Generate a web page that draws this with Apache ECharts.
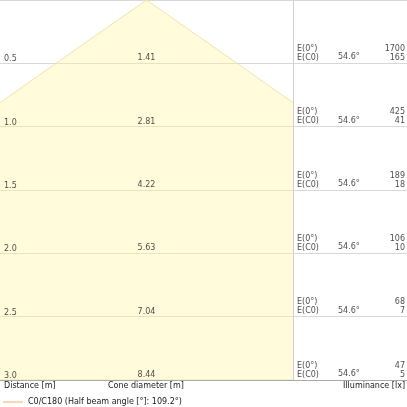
<!DOCTYPE html>
<html><head><meta charset="utf-8">
<script src="https://cdn.jsdelivr.net/npm/echarts@6/dist/echarts.min.js"></script>
<style>html,body{margin:0;padding:0;background:#fff}#c{width:407px;height:407px}</style>
</head><body><div id="c"></div>
<script>
const distances = [0.5, 1.0, 1.5, 2.0, 2.5, 3.0];
const distanceLabels = ['0.5', '1.0', '1.5', '2.0', '2.5', '3.0'];
const coneDiameters = [1.41, 2.81, 4.22, 5.63, 7.04, 8.44];
const halfAngle = 54.6;
const eCenter = [1700, 425, 189, 106, 68, 47];
const eC0 = [165, 41, 18, 10, 7, 5];
const legendName = 'C0/C180 (Half beam angle [°]: 109.2°)';

const FONT = 'DejaVu Sans';
const TXT = '#1a1a1a';

// cone polygon points (x = half width, y = distance)
const conePts = [[0, 0]];
distances.forEach((d, i) => conePts.push([coneDiameters[i] / 2, d]));
for (let i = distances.length - 1; i >= 0; i--) conePts.push([-coneDiameters[i] / 2, distances[i]]);

const chart = echarts.init(document.getElementById('c'), null, {renderer: 'canvas'});
chart.setOption({
  animation: false,
  textStyle: {fontFamily: FONT},
  grid: [
    {left: 0, top: 0, width: 293, height: 380},
    {left: 293, top: 0, width: 114, height: 380}
  ],
  xAxis: [
    {gridIndex: 0, type: 'value', min: -1.14, max: 1.14, z: 10, axisLabel: {show: false}, axisTick: {show: false},
     splitLine: {show: false}, axisLine: {show: true, onZero: false, lineStyle: {color: '#aaa', width: 1}}},
    {gridIndex: 1, type: 'value', min: 0, max: 1, z: 10, axisLabel: {show: false}, axisTick: {show: false},
     splitLine: {show: false}, axisLine: {show: true, onZero: false, lineStyle: {color: '#aaa', width: 1}}}
  ],
  yAxis: [
    {gridIndex: 0, type: 'value', inverse: true, min: 0, max: 3, interval: 0.5, z: 0,
     axisLine: {show: false}, axisTick: {show: false},
     splitLine: {show: true, lineStyle: {color: '#d8d8d8', width: 1}},
     axisLabel: {show: false}},
    {gridIndex: 1, type: 'value', inverse: true, min: 0, max: 3, interval: 0.5, z: 10,
     axisLine: {show: true, lineStyle: {color: '#d0d0d0', width: 1}}, axisTick: {show: false},
     splitLine: {show: true, lineStyle: {color: '#d8d8d8', width: 1}},
     axisLabel: {show: false}}
  ],
  legend: {
    left: 3, top: 398, itemWidth: 20, itemHeight: 2, itemGap: 5, padding: 0,
    textStyle: {fontSize: 8, color: TXT, fontFamily: FONT},
    data: [{name: legendName, icon: 'rect'}]
  },
  series: [
    {
      type: 'custom', xAxisIndex: 0, yAxisIndex: 0, clip: true, z: 2,
      data: [0],
      renderItem: function (params, api) {
        const pts = conePts.map(p => api.coord(p));
        const cs = params.coordSys;
        return {
          type: 'group',
          clipPath: {type: 'rect', shape: {x: cs.x, y: cs.y, width: cs.width, height: cs.height}},
          children: [{
            type: 'polygon', shape: {points: pts},
            style: {fill: 'rgba(255,244,160,0.38)', stroke: '#efe4ad', lineWidth: 1}
          }]
        };
      }
    },
    {
      name: legendName, type: 'line', data: [], symbol: 'none',
      itemStyle: {color: '#f6d9b3'}, lineStyle: {color: '#f6d9b3'}
    },
    {
      type: 'scatter', xAxisIndex: 0, yAxisIndex: 0, symbolSize: 0, z: 15,
      data: distances.map((d, i) => [-1.14, d, distanceLabels[i]]),
      label: {show: true, position: [0, 0], align: 'left', verticalAlign: 'bottom', offset: [4, 0],
        color: TXT, fontSize: 8, fontFamily: FONT,
        formatter: p => p.value[2]}
    },
    {
      type: 'scatter', xAxisIndex: 0, yAxisIndex: 0, symbolSize: 0, z: 15,
      data: distances.map((d, i) => [0, d, coneDiameters[i]]),
      label: {show: true, position: [0, 0], align: 'center', verticalAlign: 'bottom', offset: [0, -1],
        color: TXT, fontSize: 8, fontFamily: FONT,
        formatter: p => p.value[2].toFixed(2)}
    },
    {
      type: 'scatter', xAxisIndex: 1, yAxisIndex: 1, symbolSize: 0, z: 15,
      data: distances.map(d => [0, d]),
      label: {show: true, position: [0, 0], align: 'left', verticalAlign: 'bottom', offset: [4, -1],
        color: TXT, fontSize: 8, lineHeight: 9, fontFamily: FONT,
        formatter: () => 'E(0°)\nE(C0)'}
    },
    {
      type: 'scatter', xAxisIndex: 1, yAxisIndex: 1, symbolSize: 0, z: 15,
      data: distances.map(d => [0, d]),
      label: {show: true, position: [0, 0], align: 'left', verticalAlign: 'bottom', offset: [45, -2],
        color: TXT, fontSize: 8, fontFamily: FONT,
        formatter: () => halfAngle.toFixed(1) + '°'}
    },
    {
      type: 'scatter', xAxisIndex: 1, yAxisIndex: 1, symbolSize: 0, z: 15,
      data: distances.map((d, i) => [1, d, eCenter[i], eC0[i]]),
      label: {show: true, position: [0, 0], align: 'right', verticalAlign: 'bottom', offset: [-2, -1],
        color: TXT, fontSize: 8, lineHeight: 9, fontFamily: FONT,
        formatter: p => p.value[2] + '\n' + p.value[3]}
    }
  ],
  graphic: [
    {type: 'text', left: 4, top: 382, style: {text: 'Distance [m]', fontSize: 8, fontFamily: FONT, fill: TXT}},
    {type: 'text', left: 108, top: 382, style: {text: 'Cone diameter [m]', fontSize: 8, fontFamily: FONT, fill: TXT}},
    {type: 'text', right: 2, top: 382, style: {text: 'Illuminance [lx]', fontSize: 8, fontFamily: FONT, fill: TXT}}
  ]
});
</script></body></html>
